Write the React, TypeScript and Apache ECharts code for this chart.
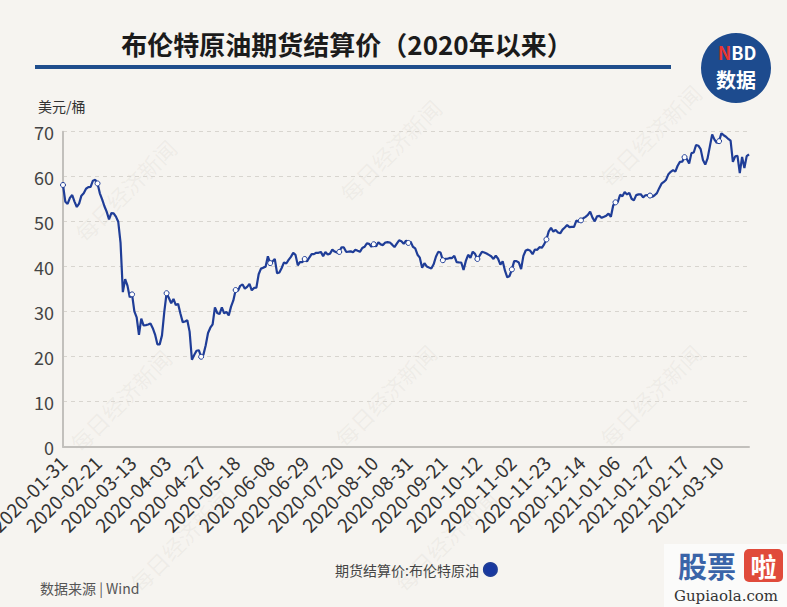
import React, { useEffect, useRef } from "react";
import * as echarts from "echarts";

// Trading calendar (ICE Brent): weekdays from START to END, minus exchange closures
const START_DATE = "2020-01-31";
const END_DATE = "2021-03-29";
const CLOSED_DAYS = ["2020-04-10", "2020-12-25", "2021-01-01"];

function buildTradingDays(): string[] {
  const out: string[] = [];
  const d = new Date(START_DATE + "T00:00:00Z");
  const end = new Date(END_DATE + "T00:00:00Z");
  while (d.getTime() <= end.getTime()) {
    const wd = d.getUTCDay();
    const s = d.toISOString().slice(0, 10);
    if (wd !== 0 && wd !== 6 && CLOSED_DAYS.indexOf(s) < 0) out.push(s);
    d.setUTCDate(d.getUTCDate() + 1);
  }
  return out;
}
const tradeDates: string[] = buildTradingDays();

// 期货结算价:布伦特原油 (USD/bbl)
const brentSettle: number[] = [
  // 2020-01-31
  58.16,
  // Feb 2020
  54.45, 53.96, 55.28, 55.93, 54.47, 53.27, 54.01, 55.79, 56.34, 57.32,
  57.67, 57.75, 59.12, 59.31, 58.5, 56.3, 54.95, 53.43, 52.18, 50.52,
  // Mar 2020
  51.9, 51.86, 51.13, 49.99, 45.27, 34.36, 37.22, 35.79, 33.22, 33.85,
  30.05, 28.73, 24.88, 28.47, 26.98, 27.03, 27.15, 27.39, 26.34, 24.93,
  22.76, 22.74,
  // Apr 2020
  24.74, 29.94, 34.11, 33.05, 31.87, 32.84, 31.48, 31.74, 29.6, 27.69,
  27.82, 28.08, 25.57, 19.33, 20.37, 21.33, 21.44, 19.99, 20.46, 22.54,
  25.27,
  // May 2020
  26.44, 27.2, 30.97, 29.72, 29.46, 30.97, 29.63, 29.98, 29.19, 31.13,
  32.5, 34.81, 34.65, 35.75, 36.06, 35.13, 35.53, 36.17, 34.74, 35.29,
  35.33,
  // Jun 2020
  38.32, 39.57, 39.79, 39.99, 42.3, 40.8, 41.18, 41.73, 38.55, 38.73,
  39.72, 40.96, 40.71, 41.51, 42.19, 43.08, 42.63, 40.31, 41.05, 41.02,
  41.71, 41.15,
  // Jul 2020
  42.03, 42.8, 42.8, 43.1, 43.08, 43.29, 42.35, 43.24, 42.72, 42.9,
  43.79, 43.37, 43.14, 43.28, 44.32, 44.29, 43.31, 43.34, 43.41, 43.22,
  43.75, 43.52, 43.3,
  // Aug 2020
  44.15, 44.43, 45.17, 45.09, 44.4, 44.99, 44.5, 45.43, 44.96, 44.8,
  45.37, 45.46, 45.37, 44.9, 44.35, 45.13, 45.86, 45.64, 45.09, 45.81,
  45.28,
  // Sep 2020
  45.58, 44.43, 44.07, 42.66, 42.01, 39.78, 40.79, 40.06, 39.83, 39.61,
  40.53, 42.22, 43.3, 43.15, 41.44, 41.72, 41.77, 41.94, 41.92, 42.43,
  41.03, 40.95,
  // Oct 2020
  40.93, 39.27, 41.29, 42.65, 41.99, 43.34, 42.85, 41.72, 42.45, 43.32,
  43.16, 42.93, 42.62, 42.31, 41.73, 42.46, 41.77, 40.46, 41.2, 39.12,
  37.65, 37.94,
  // Nov 2020
  39.4, 41.23, 41.23, 40.93, 39.45, 42.4, 43.61, 43.8, 43.53, 42.78,
  43.82, 43.75, 44.34, 44.2, 44.96, 46.06, 47.86, 48.61, 47.8, 48.18,
  47.59,
  // Dec 2020
  47.42, 48.25, 48.71, 49.25, 48.79, 48.84, 48.86, 50.25, 49.97, 50.29,
  50.76, 51.08, 51.5, 52.26, 50.91, 50.08, 51.2, 51.29, 50.86, 51.09,
  51.34, 51.8,
  // Jan 2021
  51.09, 53.6, 54.3, 54.38, 55.99, 55.66, 56.58, 56.06, 56.42, 55.1,
  54.75, 55.9, 56.08, 56.1, 55.41, 55.88, 55.91, 55.81, 55.53, 55.88,
  // Feb 2021
  56.35, 57.46, 58.46, 58.84, 59.34, 60.56, 61.09, 61.47, 61.14, 62.43,
  63.3, 63.35, 64.34, 63.93, 62.91, 65.24, 65.37, 67.04, 66.88, 66.13,
  // Mar 2021
  63.69, 62.7, 64.07, 66.74, 69.36, 68.24, 67.52, 67.9, 69.63, 69.22,
  68.88, 68.39, 68.0, 63.28, 64.53, 64.62, 60.79, 64.41, 61.95, 64.57,
  64.98,
];

const TITLE = "布伦特原油期货结算价（2020年以来）";
const UNIT = "美元/桶";
const SERIES_NAME = "期货结算价:布伦特原油";
const SOURCE = "数据来源 | Wind";
const WATERMARK = "每日经济新闻";
const Y_MIN = 0;
const Y_MAX = 70;
const Y_STEP = 10;
const LABEL_EVERY = 15;

const FONT = '"Noto Sans CJK SC", "Noto Sans", sans-serif';

export default function App() {
  const ref = useRef<HTMLDivElement>(null);

  useEffect(() => {
    if (!ref.current) return;
    const chart = echarts.init(ref.current, null, { renderer: "svg" });

    const wmPos = [
      [125, 190], [390, 150], [650, 135],
      [120, 400], [385, 395], [650, 395],
      [180, 540], [445, 540],
    ];
    const watermarks = wmPos.map(([x, y]) => ({
      type: "text",
      x,
      y,
      rotation: Math.PI / 4,
      silent: true,
      z: 0,
      style: {
        text: WATERMARK,
        font: `22px ${FONT}`,
        fill: "rgba(170,160,150,0.10)",
        textAlign: "center",
        textVerticalAlign: "middle",
      },
    }));

    const option: any = {
      animation: false,
      backgroundColor: "#f6f4f0",
      textStyle: { fontFamily: FONT },
      grid: {
        left: 63,
        right: 38,
        top: 131.7,
        bottom: 160.3,
        containLabel: false,
        outerBoundsMode: "none",
      },
      legend: {
        show: true,
        left: 330,
        top: 557,
        align: "right",
        icon: "circle",
        itemWidth: 13,
        itemHeight: 13,
        itemGap: 4,
        textStyle: { fontSize: 14, color: "#444", fontFamily: FONT },
        itemStyle: { color: "#1838a0" },
        data: [SERIES_NAME],
      },
      xAxis: {
        type: "category",
        data: tradeDates,
        boundaryGap: false,
        axisLine: { show: true, lineStyle: { color: "#c2c0bc", width: 2 } },
        axisTick: { show: false },
        axisLabel: {
          interval: LABEL_EVERY - 1,
          rotate: 45,
          fontSize: 19,
          color: "#333",
          margin: 12,
          fontFamily: FONT,
        },
        splitLine: { show: false },
      },
      yAxis: {
        type: "value",
        min: Y_MIN,
        max: Y_MAX,
        interval: Y_STEP,
        axisLine: { show: true, lineStyle: { color: "#c2c0bc", width: 2 } },
        axisTick: { show: false },
        axisLabel: { fontSize: 18, color: "#444", margin: 9, fontFamily: FONT },
        splitLine: { show: true, lineStyle: { color: "#d8d5cf", type: [4, 4], width: 1 } },
      },
      series: [
        {
          name: SERIES_NAME,
          type: "line",
          data: brentSettle,
          color: "#1f3d97",
          lineStyle: { color: "#1f3d97", width: 2.2 },
          showSymbol: true,
          showAllSymbol: true,
          symbol: (_v: any, p: any) => (p.dataIndex % LABEL_EVERY === 0 ? "circle" : "none"),
          symbolSize: 5,
          itemStyle: { color: "#ffffff", borderColor: "#1f3d97", borderWidth: 1 },
          z: 3,
        },
      ],
      graphic: [
        ...watermarks,
        {
          type: "text",
          x: 347,
          y: 43,
          style: {
            text: TITLE,
            font: `bold 26px ${FONT}`,
            fill: "#1b1b1b",
            textAlign: "center",
            textVerticalAlign: "middle",
          },
        },
        {
          type: "rect",
          shape: { x: 35, y: 65, width: 636, height: 4 },
          style: { fill: "#1f4e8c" },
        },
        {
          type: "circle",
          shape: { cx: 736, cy: 68, r: 35 },
          style: { fill: "#1d4b8e" },
        },
        {
          type: "text",
          x: 737,
          y: 52,
          style: {
            text: "{r|N}{w|BD}",
            textAlign: "center",
            textVerticalAlign: "middle",
            rich: {
              r: { fill: "#e8352f", font: `bold 18px ${FONT}`, lineHeight: 18 },
              w: { fill: "#ffffff", font: `bold 18px ${FONT}`, lineHeight: 18 },
            },
          },
        },
        {
          type: "text",
          x: 736,
          y: 79,
          style: {
            text: "数据",
            font: `bold 20px ${FONT}`,
            fill: "#ffffff",
            textAlign: "center",
            textVerticalAlign: "middle",
          },
        },
        {
          type: "text",
          x: 38,
          y: 106,
          style: {
            text: UNIT,
            font: `14px ${FONT}`,
            fill: "#333",
            textAlign: "left",
            textVerticalAlign: "middle",
          },
        },
        {
          type: "text",
          x: 40,
          y: 588,
          style: {
            text: SOURCE,
            font: `14px ${FONT}`,
            fill: "#555",
            textAlign: "left",
            textVerticalAlign: "middle",
          },
        },
        {
          type: "rect",
          shape: { x: 664, y: 544, width: 123, height: 63 },
          style: { fill: "#fbfbfa" },
        },
        {
          type: "text",
          x: 707,
          y: 565,
          style: {
            text: "股票",
            font: `bold 29px ${FONT}`,
            fill: "#3a64a8",
            textAlign: "center",
            textVerticalAlign: "middle",
          },
        },
        {
          type: "rect",
          shape: { x: 744, y: 549, width: 39, height: 33, r: 5 },
          style: { fill: "#e04b3b" },
        },
        {
          type: "text",
          x: 763.5,
          y: 565,
          style: {
            text: "啦",
            font: `bold 26px ${FONT}`,
            fill: "#ffffff",
            textAlign: "center",
            textVerticalAlign: "middle",
          },
        },
        {
          type: "text",
          x: 726,
          y: 596,
          style: {
            text: "Gupiaola.com",
            font: `15px "DejaVu Serif", "Liberation Serif", serif`,
            fill: "#333",
            textAlign: "center",
            textVerticalAlign: "middle",
          },
        },
      ],
    };

    chart.setOption(option);
    return () => {
      chart.dispose();
    };
  }, []);

  return (
    <div
      ref={ref}
      style={{ position: "fixed", left: 0, top: 0, width: 787, height: 607 }}
    />
  );
}
